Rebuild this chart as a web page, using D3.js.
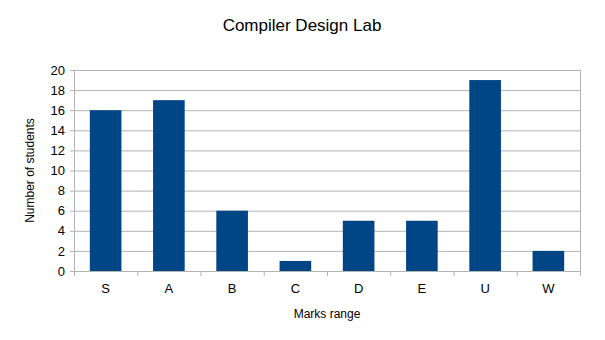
<!DOCTYPE html>
<html>
<head>
  <title>Compiler Design Lab</title>
  <script src="https://d3js.org/d3.v7.min.js"></script>
  <style>
    body { margin: 0; background: #fff; }
    text { font-family: "Liberation Sans", Arial, sans-serif; fill: #000; }
  </style>
</head>
<body>
<script>
// data
var categories = ["S", "A", "B", "C", "D", "E", "U", "W"];
var students = [16, 17, 6, 1, 5, 5, 19, 2];
var yTicks = [0, 2, 4, 6, 8, 10, 12, 14, 16, 18, 20];

var data = categories.map(function(c, i) { return { x: c, y: students[i] }; });

var W = 605, H = 340;
var margin = { top: 70, right: 25, bottom: 69, left: 74 },
    width = 580 - margin.left,
    height = 271 - margin.top;

var svg = d3.select("body").append("svg")
    .attr("width", W)
    .attr("height", H);

svg.append("text")
    .attr("x", 302)
    .attr("y", 31)
    .attr("text-anchor", "middle")
    .style("font-size", "17px")
    .text("Compiler Design Lab");

var g = svg.append("g")
    .attr("transform", "translate(" + margin.left + "," + margin.top + ")");

var x = d3.scaleBand().domain(categories).range([0, width]).paddingInner(0.5).paddingOuter(0.25);
var band = d3.scaleBand().domain(categories).range([0, width]);
var y = d3.scaleLinear().domain([0, 20]).range([height, 0]);

// grid
g.append("g")
    .call(d3.axisLeft(y).tickValues(yTicks).tickSize(-width).tickFormat(""))
    .call(function(a) {
      a.select(".domain").remove();
      a.selectAll(".tick line").attr("stroke", "#b3b3b3");
    });

// y axis
g.append("g")
    .call(d3.axisLeft(y).tickValues(yTicks).tickSize(4).tickPadding(5))
    .call(function(a) {
      a.select(".domain").attr("stroke", "#b3b3b3");
      a.selectAll(".tick line").attr("stroke", "#b3b3b3");
      a.selectAll(".tick text").style("font-size", "13px").attr("fill", "#000");
    });

// right border
g.append("line")
    .attr("x1", width + 0.5).attr("x2", width + 0.5)
    .attr("y1", 0).attr("y2", height)
    .attr("stroke", "#b3b3b3");

// bars
g.selectAll(".bar")
    .data(data)
  .enter().append("rect")
    .attr("class", "bar")
    .attr("x", function(d) { return x(d.x); })
    .attr("width", x.bandwidth())
    .attr("y", function(d) { return y(d.y); })
    .attr("height", function(d) { return height - y(d.y); })
    .attr("fill", "#004586");

// x axis
var xAxis = g.append("g")
    .attr("transform", "translate(0," + height + ")");
xAxis.append("line")
    .attr("x1", 0).attr("x2", width)
    .attr("y1", 0.5).attr("y2", 0.5)
    .attr("stroke", "#b3b3b3");
xAxis.selectAll(".xtick")
    .data(categories.concat(["end"]))
  .enter().append("line")
    .attr("x1", function(d, i) { return i * band.bandwidth() + 0.5; })
    .attr("x2", function(d, i) { return i * band.bandwidth() + 0.5; })
    .attr("y1", 0).attr("y2", 5)
    .attr("stroke", "#b3b3b3");
xAxis.selectAll(".xlabel")
    .data(categories)
  .enter().append("text")
    .attr("x", function(d) { return band(d) + band.bandwidth() / 2; })
    .attr("y", 22)
    .attr("text-anchor", "middle")
    .style("font-size", "13px")
    .text(function(d) { return d; });

// axis titles
svg.append("text")
    .attr("x", margin.left + width / 2)
    .attr("y", 318)
    .attr("text-anchor", "middle")
    .style("font-size", "12px")
    .text("Marks range");

svg.append("text")
    .attr("transform", "translate(34," + (margin.top + height / 2) + ") rotate(-90)")
    .attr("text-anchor", "middle")
    .style("font-size", "12px")
    .text("Number of students");
</script>
</body>
</html>
